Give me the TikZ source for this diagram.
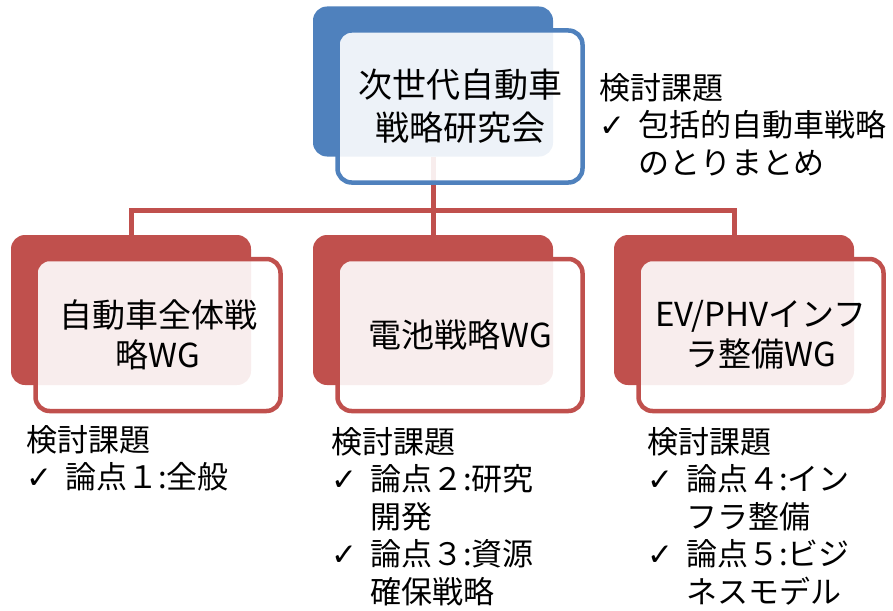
\documentclass[tikz,border=0pt]{standalone}
\usepackage{fontspec}
\setmainfont{Noto Sans CJK JP}
\newfontfamily\symfont{DejaVu Sans}
\usetikzlibrary{positioning}

\definecolor{blueacc}{HTML}{4F81BD}
\definecolor{redacc}{HTML}{C0504D}

\newcommand{\chk}{\makebox[39pt][l]{\symfont ✓}}
\newcommand{\ind}{\hspace*{39pt}}

\tikzset{
  backbox/.style={fill=#1, rounded corners=14pt, minimum width=240pt, minimum height=150pt, inner sep=0pt},
  frontbox/.style={draw=#1, line width=4.5pt, fill=white, fill opacity=0.9, text opacity=1,
    rounded corners=14pt, minimum width=245pt, minimum height=152pt, inner sep=0pt,
    align=center, xshift=27pt, yshift=-25pt},
  memo/.style={anchor=north west, align=left, inner sep=0pt, font=\fontsize{31}{37.5}\selectfont},
  conn/.style={draw=redacc, line width=5pt}
}

\begin{document}
\begin{tikzpicture}[x=1pt,y=-1pt]
\useasboundingbox (0,0) rectangle (893,610);

\node (topback)[backbox=blueacc] at (433,81.5) {};
\node (carback)[backbox=redacc] at (131,310) {};
\node (batback)[backbox=redacc] at (433,310) {};
\node (infback)[backbox=redacc] at (734,310) {};

% draw the connections
\coordinate (split) at (433,210);
\draw[conn] (topback.south) -- (split);
\draw[conn] (split) -| (carback.north);
\draw[conn] (split) -- (batback.north);
\draw[conn] (split) -| (infback.north);

\node (top)[frontbox=blueacc, font=\fontsize{34}{43}\selectfont] at (topback.center) {次世代自動車\\戦略研究会};
\node (car)[frontbox=redacc, font=\fontsize{33}{40}\selectfont] at (carback.center) {自動車全体戦\\略WG};
\node (bat)[frontbox=redacc, font=\fontsize{33}{40}\selectfont] at (batback.center) {電池戦略WG};
\node (inf)[frontbox=redacc, font=\fontsize{33}{40}\selectfont] at (infback.center) {EV/PHVインフ\\ラ整備WG};

% topics
\node (topmemo)[memo] at (599,73) {検討課題\\\chk 包括的自動車戦略\\\ind のとりまとめ};
\node (carmemo)[memo] at (26,425) {検討課題\\\chk 論点１:全般};
\node (batmemo)[memo] at (331,427) {検討課題\\\chk 論点２:研究\\\ind 開発\\\chk 論点３:資源\\\ind 確保戦略};
\node (infmemo)[memo] at (647,427) {検討課題\\\chk 論点４:イン\\\ind フラ整備\\\chk 論点５:ビジ\\\ind ネスモデル};
\end{tikzpicture}
\end{document}
